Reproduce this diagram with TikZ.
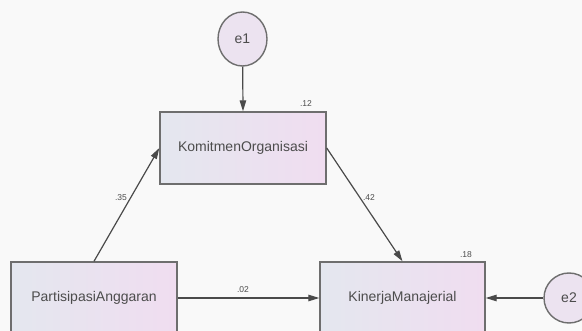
\documentclass[tikz,border=0pt]{standalone}
\usepackage{fontspec}
\setmainfont{Liberation Sans}
\usetikzlibrary{arrows.meta,shapes.geometric}
\definecolor{bg}{HTML}{F9F9F9}
\definecolor{boxL}{HTML}{E4E7EF}
\definecolor{boxR}{HTML}{F0DDF0}
\definecolor{edgec}{HTML}{6E6E6E}
\definecolor{txt}{HTML}{4C4C4C}
\definecolor{circf}{HTML}{ECE3F0}
\definecolor{arr}{HTML}{4A4A4A}
\tikzset{
  varbox/.style={draw=edgec, line width=1.4pt, left color=boxL, right color=boxR,
    minimum width=166pt, minimum height=72pt, inner sep=0pt, font=\fontsize{14}{16}\selectfont, text=txt},
  errnode/.style={draw=edgec, line width=1.4pt, fill=circf, ellipse, inner sep=0pt,
    font=\fontsize{14}{16}\selectfont, text=txt},
  arrowline/.style={draw=arr, line width=1.2pt, -{Triangle[length=11pt,width=6.5pt]}},
  coef/.style={font=\fontsize{8.5}{10}\selectfont, text=txt, inner sep=0pt}
}
\begin{document}
\begin{tikzpicture}[x=1pt,y=-1pt]
\useasboundingbox (0,0) rectangle (582,331);
\clip (0,0) rectangle (582,331);
\fill[bg] (0,0) rectangle (582,331);
\node[varbox] (K) at (243,148) {KomitmenOrganisasi};
\node[varbox] (P) at (94,298) {PartisipasiAnggaran};
\node[varbox, minimum width=165pt] (M) at (402.5,298) {KinerjaManajerial};
\node[errnode, minimum width=49pt, minimum height=54pt] (e1) at (242.5,39) {e1};
\node[errnode, minimum width=50pt, minimum height=50pt] (e2) at (569,298) {e2};
\draw[arrowline] (e1) -- (K.north);
\draw[arrowline] (P.north) -- (K.west);
\draw[arrowline] (K.east) -- (M.north);
\draw[arrowline] (P.east) -- (M.west);
\draw[arrowline] (e2) -- (M.east);
\node[coef] (c12) at (306,104) {.12};
\node[coef] (c18) at (466,255) {.18};
\node[coef] (c35) at (121,198) {.35};
\node[coef] (c42) at (369,198) {.42};
\node[coef] (c02) at (243,290) {.02};
\end{tikzpicture}
\end{document}
